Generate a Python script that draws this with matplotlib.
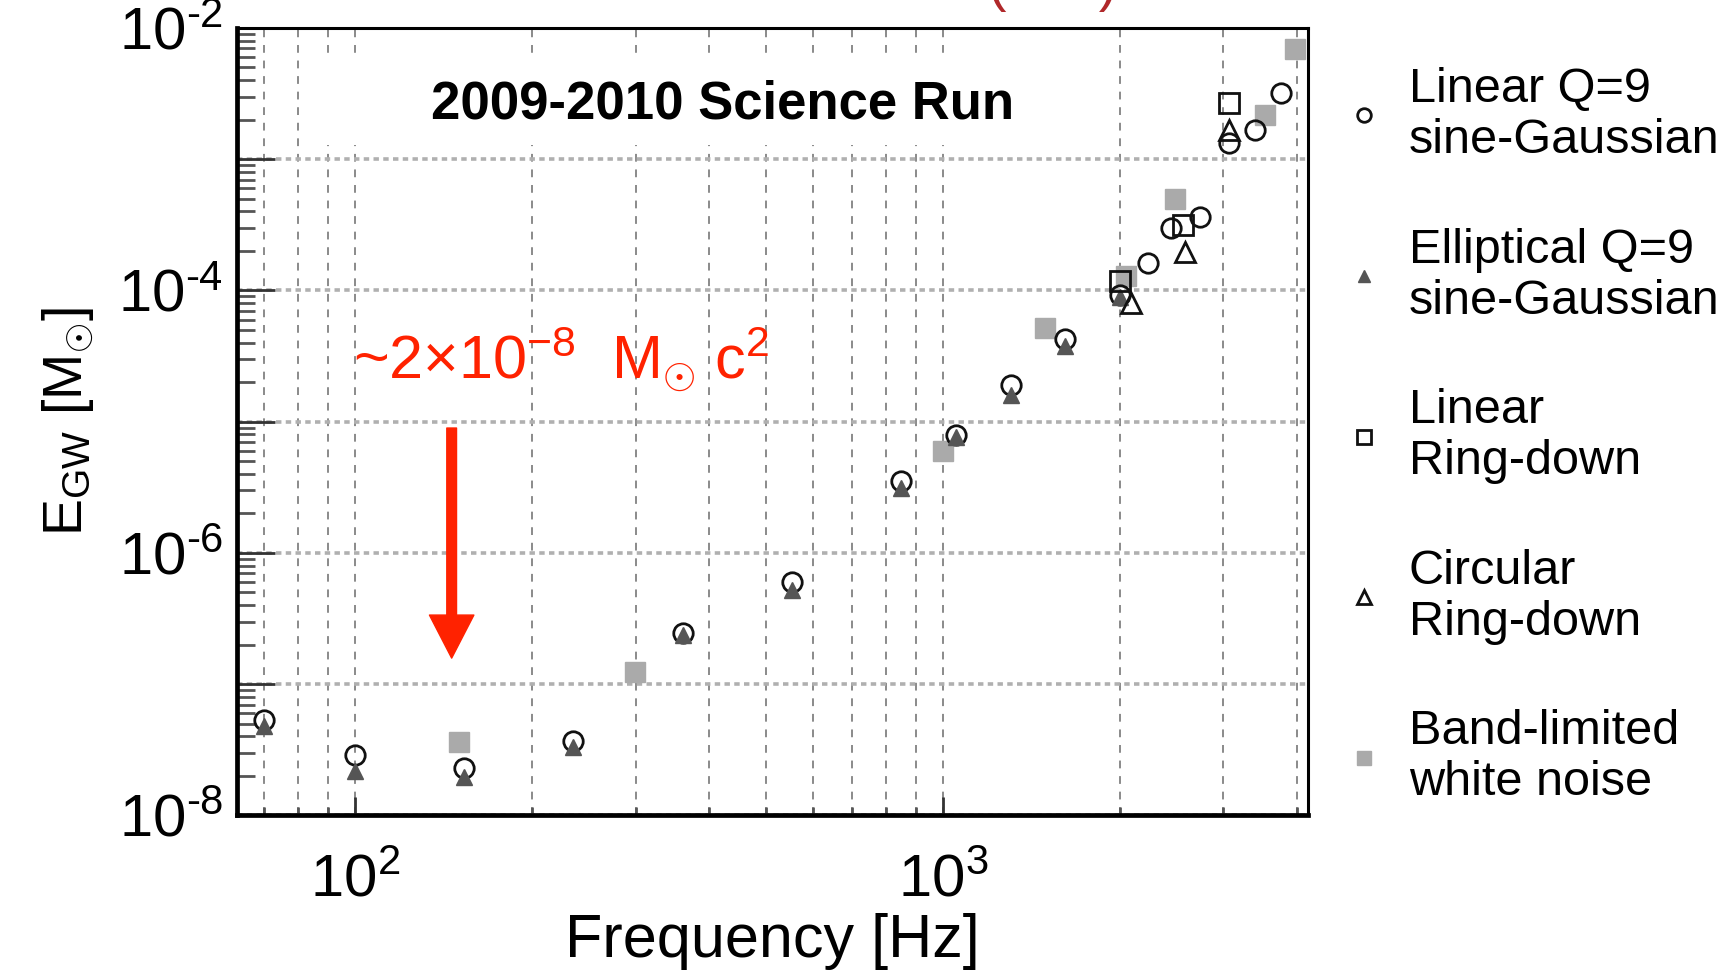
import numpy as np
import matplotlib
matplotlib.use('Agg')
import matplotlib.pyplot as plt
from matplotlib.ticker import FixedLocator, FuncFormatter, NullFormatter, LogLocator
from matplotlib.patches import Rectangle

plt.rcParams['font.family'] = ['Liberation Sans', 'DejaVu Sans']
plt.rcParams['mathtext.fontset'] = 'custom'
plt.rcParams['mathtext.rm'] = 'Liberation Sans'
plt.rcParams['mathtext.it'] = 'Liberation Sans:italic'
plt.rcParams['mathtext.bf'] = 'Liberation Sans:bold'
plt.rcParams['axes.unicode_minus'] = False

# values: frequency [Hz] and E_GW [M_sun]
lin_sg_freq = [70, 100, 153, 235, 361, 554, 849, 1053, 1304, 1615, 2000, 2232, 2444, 2733, 3067, 3390, 3763]
lin_sg_egw = [5.3e-8, 2.9e-8, 2.3e-8, 3.7e-8, 2.45e-7, 6.0e-7, 3.55e-6, 7.9e-6, 1.9e-5, 4.3e-5,
              9.3e-5, 1.63e-4, 2.98e-4, 3.65e-4, 1.32e-3, 1.67e-3, 3.18e-3]

ell_sg_freq = [70, 100, 153, 235, 361, 554, 849, 1053, 1304, 1615, 2000]
ell_sg_egw = [4.8e-8, 2.2e-8, 1.95e-8, 3.3e-8, 2.35e-7, 5.2e-7, 3.1e-6, 7.6e-6, 1.6e-5, 3.8e-5, 8.9e-5]

lin_rd_freq = [2000, 2559, 3067]
lin_rd_egw = [1.18e-4, 3.15e-4, 2.67e-3]

circ_rd_freq = [2090, 2577, 3067]
circ_rd_egw = [8.0e-5, 1.98e-4, 1.67e-3]

wn_freq = [150, 299, 1000, 1494, 2048, 2478, 3524, 3967]
wn_egw = [3.6e-8, 1.23e-7, 6.0e-6, 5.15e-5, 1.3e-4, 5.0e-4, 2.17e-3, 6.9e-3]

labels = ['Linear Q=9\nsine-Gaussian', 'Elliptical Q=9\nsine-Gaussian',
          'Linear\nRing-down', 'Circular\nRing-down', 'Band-limited\nwhite noise']

red = '#ff2200'

fig = plt.figure(figsize=(17.28, 9.71), dpi=100)
ax = fig.add_axes([0.1372, 0.1602, 0.6198, 0.8110])
ax.set_xscale('log')
ax.set_yscale('log')
ax.set_xlim(63, 4180)
ax.set_ylim(1e-8, 1e-2)

# grid: dashed verticals at every x tick, dotted horizontals at decades
ax.xaxis.grid(True, which='both', ls=(0, (4, 4)), color='#8a8a8a', lw=1.4)
ax.yaxis.grid(True, which='major', ls=(0, (1.5, 1.2)), color='#b0b0b0', lw=2.6)
ax.yaxis.grid(False, which='minor')

# white box behind the title hides the grid
ax.add_patch(Rectangle((0.07, 0.851), 0.73, 0.115, transform=ax.transAxes,
                       facecolor='white', edgecolor='none', zorder=1.6))
ax.text(0.4529, 0.903, '2009-2010 Science Run', transform=ax.transAxes,
        ha='center', va='center', fontsize=38, fontweight='bold', zorder=3)

ms = 14
h_wn, = ax.plot(wn_freq, wn_egw, ls='none', marker='s', ms=ms, mfc='#aaaaaa', mec='#aaaaaa', zorder=3)
h_lsg, = ax.plot(lin_sg_freq, lin_sg_egw, ls='none', marker='o', ms=ms, mfc='none', mec='#111111', mew=2, zorder=4)
h_esg, = ax.plot(ell_sg_freq, ell_sg_egw, ls='none', marker='^', ms=12, mfc='#555555', mec='#555555', zorder=5)
h_lrd, = ax.plot(lin_rd_freq, lin_rd_egw, ls='none', marker='s', ms=ms, mfc='none', mec='#111111', mew=2, zorder=5)
h_crd, = ax.plot(circ_rd_freq, circ_rd_egw, ls='none', marker='^', ms=ms, mfc='none', mec='#111111', mew=2, zorder=5)

# ticks
def exp_label(v, even_only):
    e = int(round(np.log10(v)))
    if even_only and e % 2:
        return ''
    sign = '\u2010' if e < 0 else ''
    return '10$^{%s%d}$' % (sign, abs(e))

ax.yaxis.set_major_locator(FixedLocator([1e-8, 1e-7, 1e-6, 1e-5, 1e-4, 1e-3, 1e-2]))
ax.yaxis.set_minor_locator(LogLocator(base=10, subs=np.arange(2, 10), numticks=50))
ax.yaxis.set_major_formatter(FuncFormatter(lambda v, p: exp_label(v, True)))
ax.yaxis.set_minor_formatter(NullFormatter())
ax.xaxis.set_major_locator(FixedLocator([100, 1000]))
ax.xaxis.set_minor_locator(LogLocator(base=10, subs=np.arange(2, 10), numticks=50))
ax.xaxis.set_major_formatter(FuncFormatter(lambda v, p: exp_label(v, False)))
ax.xaxis.set_minor_formatter(NullFormatter())

ax.tick_params(axis='both', which='both', direction='in', top=False, right=False, labelsize=43)
ax.tick_params(axis='y', which='major', length=27, width=2, color='#333333', pad=10)
ax.tick_params(axis='y', which='minor', length=13, width=2, color='#555555')
ax.tick_params(axis='x', which='major', length=13, width=2, color='#333333', pad=27)
ax.tick_params(axis='x', which='minor', length=6, width=2, color='#555555')

for side in ['left', 'bottom']:
    ax.spines[side].set_linewidth(3.4)
for side in ['top', 'right']:
    ax.spines[side].set_linewidth(2.2)

ax.set_xlabel('Frequency [Hz]', fontsize=44)
ax.xaxis.set_label_coords(0.5, -0.124)
ax.set_ylabel(r'E$_{\rm GW}$ [M$_{\odot}$]', fontsize=40)
ax.yaxis.set_label_coords(-0.1317, 0.5)

# annotation: arrow and energy estimate
ax.text(0.108, 0.5556, r'~2×10$^{-8}$  M$_{\odot}$ c$^{2}$', transform=ax.transAxes,
        color=red, fontsize=44, ha='left', va='baseline', zorder=6)
ax.annotate('', xy=(146, 1.58e-7), xytext=(146, 8.95e-6),
            arrowprops=dict(width=7, headwidth=32, headlength=31, color=red, shrink=0),
            zorder=6)

leg = ax.legend([h_lsg, h_esg, h_lrd, h_crd, h_wn], labels, loc='upper left',
                bbox_to_anchor=(0.775, 0.931), bbox_transform=fig.transFigure,
                frameon=False, fontsize=35, markerscale=0.7, handlelength=1.0,
                handletextpad=0.43, labelspacing=1.33, borderpad=0, borderaxespad=0)
for t in leg.get_texts():
    t.set_linespacing(1.17)

# cut-off caption at the very top of the figure
fig.text(0.572, 1.0, '(      )', color='#b0282a', fontsize=40, ha='left', va='baseline')

fig.savefig('out.png', dpi=100)
